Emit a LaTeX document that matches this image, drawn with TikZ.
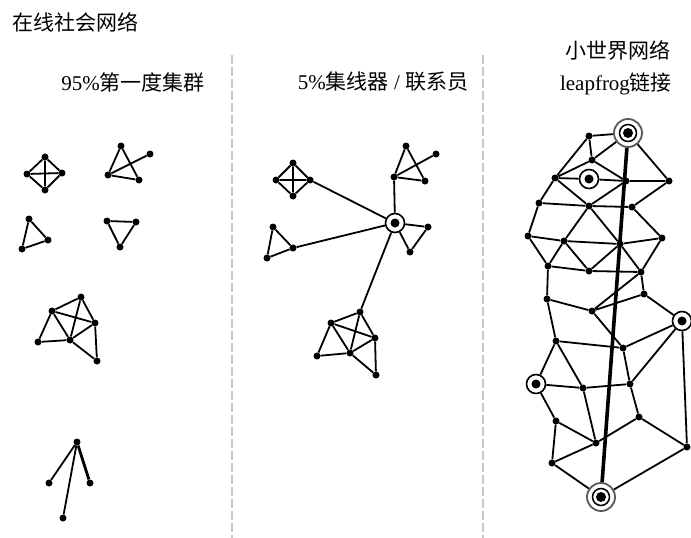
\documentclass[tikz,border=0pt]{standalone}
\usepackage{fontspec}
\setmainfont{Liberation Serif}
\newfontfamily\cjk{Noto Sans CJK SC}
\begin{document}
\begin{tikzpicture}[x=1pt,y=-1pt,
  dot/.style={circle,fill=black,inner sep=0pt,minimum size=7pt},
  edge/.style={line width=1.8pt},
  thickedge/.style={line width=3.6pt},
  hubtwo/.style={circle,draw=black,line width=1.6pt,fill=white,inner sep=0pt,minimum size=19pt,
    path picture={\fill[black] (path picture bounding box.center) circle (4.5pt);}},
  hubthree/.style={circle,draw=black!65,line width=1.8pt,fill=white,inner sep=0pt,minimum size=28pt,
    path picture={\draw[black,line width=1.5pt] (path picture bounding box.center) circle (8.5pt);
      \fill[black] (path picture bounding box.center) circle (5pt);}},
  divider/.style={draw=black!22,line width=1.5pt,dash pattern=on 9pt off 3pt},
  lbl/.style={inner sep=0pt,font=\fontsize{21}{25}\selectfont}
]
\useasboundingbox (0,0) rectangle (691,538);
\fill[white] (0,0) rectangle (691,538);

% labels
\node[lbl,anchor=west] (title) at (12,22) {\cjk 在线社会网络};
\node[lbl] (sw) at (618,50) {\cjk 小世界网络};
\node[lbl] (l1) at (133,82) {95\%{\cjk 第一度集群}};
\node[lbl] (l2) at (383,82) {5\%{\cjk 集线器} / {\cjk 联系员}};
\node[lbl] (l3) at (616,84) {leapfrog{\cjk 链接}};

% dividers
\coordinate (dv1a) at (232,55); \coordinate (dv1b) at (232,538);
\coordinate (dv2a) at (483,55); \coordinate (dv2b) at (483,538);
\draw[divider] (dv1a) -- (dv1b);
\draw[divider] (dv2a) -- (dv2b);

% ===== left column =====
\node[dot] (a1) at (45,157) {};
\node[dot] (a2) at (27,174) {};
\node[dot] (a3) at (62,173) {};
\node[dot] (a4) at (45,190) {};
\draw[edge] (a1)--(a2)--(a4)--(a3)--(a1) (a1)--(a4) (a2)--(a3);

\node[dot] (b1) at (121,146) {};
\node[dot] (b2) at (108,175) {};
\node[dot] (b3) at (139,180) {};
\node[dot] (b4) at (150,154) {};
\draw[edge] (b1)--(b2)--(b3)--(b1) (b2)--(b4);

\node[dot] (c1) at (29,219) {};
\node[dot] (c2) at (48,240) {};
\node[dot] (c3) at (22,249) {};
\draw[edge] (c1)--(c2)--(c3)--(c1);

\node[dot] (e1) at (107,221) {};
\node[dot] (e2) at (136,222) {};
\node[dot] (e3) at (120,247) {};
\draw[edge] (e1)--(e2)--(e3)--(e1);

\node[dot] (p1) at (81,297) {};
\node[dot] (p2) at (52,311) {};
\node[dot] (p3) at (95,323) {};
\node[dot] (p4) at (38,342) {};
\node[dot] (p5) at (70,340) {};
\node[dot] (p6) at (97,361) {};
\draw[edge] (p2)--(p1)--(p3)--(p2) (p1)--(p5) (p2)--(p5) (p2)--(p4)--(p5)--(p3)--(p6)--(p5);

\node[dot] (r0) at (77,442) {};
\node[dot] (r1) at (49,483) {};
\node[dot] (r2) at (90,483) {};
\node[dot] (r3) at (63,518) {};
\draw[edge] (r0)--(r1) (r0)--(r3);
\draw[line width=2.8pt] (r0)--(r2);

% ===== middle column =====
\node[hubtwo] (mh) at (395,223) {};

\node[dot] (ma1) at (293,163) {};
\node[dot] (ma2) at (276,180) {};
\node[dot] (ma3) at (310,180) {};
\node[dot] (ma4) at (293,196) {};
\draw[edge] (ma1)--(ma2)--(ma4)--(ma3)--(ma1) (ma1)--(ma4) (ma2)--(ma3);
\draw[edge] (ma3)--(mh);

\node[dot] (mb1) at (273,227) {};
\node[dot] (mb2) at (267,258) {};
\node[dot] (mb3) at (293,248) {};
\draw[edge] (mb1)--(mb2)--(mb3)--(mb1) (mb3)--(mh);

\node[dot] (mc1) at (406,146) {};
\node[dot] (mc2) at (394,177) {};
\node[dot] (mc3) at (425,181) {};
\node[dot] (mc4) at (436,154) {};
\draw[edge] (mc1)--(mc2)--(mc3)--(mc1) (mc2)--(mc4) (mc2)--(mh);

\node[dot] (md1) at (428,227) {};
\node[dot] (md2) at (410,252) {};
\draw[edge] (mh)--(md1)--(md2)--(mh);

\node[dot] (mq1) at (360,312) {};
\node[dot] (mq2) at (331,323) {};
\node[dot] (mq3) at (375,338) {};
\node[dot] (mq4) at (317,356) {};
\node[dot] (mq5) at (350,353) {};
\node[dot] (mq6) at (376,375) {};
\draw[edge] (mh)--(mq1);
\draw[edge] (mq2)--(mq1)--(mq3)--(mq2) (mq1)--(mq5) (mq2)--(mq5) (mq2)--(mq4)--(mq5)--(mq3)--(mq6)--(mq5);

% ===== right column =====
\node[hubthree] (H1) at (628,133) {};
\node[hubthree] (H5) at (601,497) {};
\node[hubtwo] (H2) at (589,179) {};
\node[hubtwo] (H3) at (682,321) {};
\node[hubtwo] (H4) at (536,384) {};

\node[dot] (A) at (589,136) {};
\node[dot] (B) at (592,160) {};
\node[dot] (C) at (555,178) {};
\node[dot] (D) at (626,181) {};
\node[dot] (E) at (669,181) {};
\node[dot] (F) at (539,203) {};
\node[dot] (G) at (589,206) {};
\node[dot] (Hn) at (632,207) {};
\node[dot] (I) at (528,236) {};
\node[dot] (J) at (564,241) {};
\node[dot] (K) at (620,244) {};
\node[dot] (L) at (662,238) {};
\node[dot] (M) at (548,266) {};
\node[dot] (N) at (589,271) {};
\node[dot] (O) at (641,272) {};
\node[dot] (P) at (547,299) {};
\node[dot] (Q) at (644,294) {};
\node[dot] (R) at (592,311) {};
\node[dot] (S) at (556,341) {};
\node[dot] (T) at (623,348) {};
\node[dot] (U) at (583,388) {};
\node[dot] (V) at (630,384) {};
\node[dot] (Y) at (639,417) {};
\node[dot] (Z) at (556,421) {};
\node[dot] (X) at (596,443) {};
\node[dot] (W) at (687,447) {};
\node[dot] (AA) at (552,463) {};

\draw[thickedge] (H1)--(H5);
\draw[edge] (H1)--(A)--(B)--(C)--(A) (B)--(H1) (B)--(D) (H1)--(E)
  (C)--(H2)--(D)--(E)
  (C)--(F) (C)--(G)--(D) (E)--(Hn) (F)--(G)--(Hn)
  (F)--(I) (G)--(J) (G)--(K) (Hn)--(L) (I)--(J)--(K)--(L)
  (I)--(M)--(J)--(N)--(K)--(O)--(L) (M)--(N)--(O)
  (M)--(P) (O)--(Q) (O)--(R) (P)--(R)--(Q)--(H3)
  (P)--(S) (R)--(T) (S)--(T)--(H3)--(V)--(T)
  (H3)--(W)
  (S)--(H4) (S)--(U) (H4)--(U)--(V)
  (U)--(X) (V)--(Y)--(X) (Y)--(W)
  (H4)--(Z)--(X) (Z)--(AA)--(X) (AA)--(H5) (W)--(H5);
\end{tikzpicture}
\end{document}
